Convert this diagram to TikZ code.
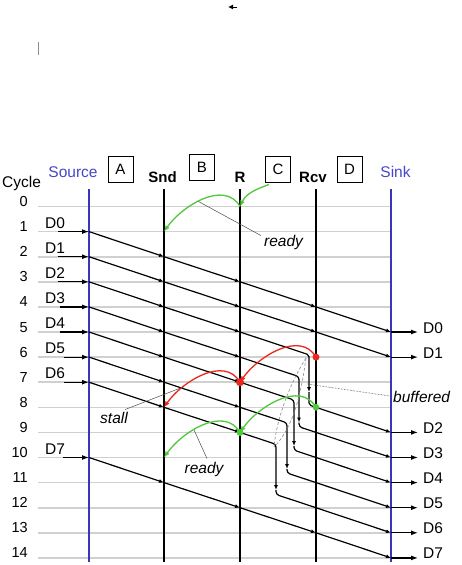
\documentclass[tikz,border=0pt]{standalone}
\usepackage{fontspec}
\setmainfont{Liberation Sans}
\usetikzlibrary{arrows.meta}
\definecolor{railblue}{RGB}{55,55,185}
\definecolor{textblue}{RGB}{70,70,200}
\definecolor{rowgray}{RGB}{208,208,208}
\definecolor{okgreen}{RGB}{80,200,60}
\definecolor{stallred}{RGB}{235,40,30}
\begin{document}
\begin{tikzpicture}[x=1pt,y=1pt,
  lab/.style={font=\fontsize{15.5}{17}\selectfont, inner sep=0},
  num/.style={font=\fontsize{14.5}{16}\selectfont, inner sep=0, anchor=base east},
  hdr/.style={font=\bfseries\fontsize{15}{17}\selectfont, inner sep=0, anchor=base},
  blu/.style={font=\fontsize{15.5}{17}\selectfont, inner sep=0, text=textblue, anchor=base},
  hbox/.style={draw, line width=1pt, minimum width=25pt, minimum height=26pt, inner sep=0, font=\fontsize{15}{17}\selectfont},
  note/.style={font=\itshape\fontsize{15.5}{17}\selectfont, inner sep=0},
  rowline/.style={rowgray, line width=1.6pt},
  rail/.style={line width=2pt},
  flow/.style={line width=1.2pt, -{Latex[length=5pt,width=4pt]}},
  plain/.style={line width=1.2pt},
  outarr/.style={line width=1.2pt, -{Latex[length=7pt,width=5pt]}},
  garc/.style={okgreen, line width=1.3pt, -{Latex[length=6pt,width=5pt]}},
  rarc/.style={stallred, line width=1.3pt, -{Latex[length=6pt,width=5pt]}},
  hop/.style={out=120, in=55, looseness=1},
  thinline/.style={black!70, line width=0.5pt},
]
\fill[white] (0,0) rectangle (462,-565);
\useasboundingbox (0,0) rectangle (462,-565);

% grid coordinates
\foreach \r in {0,...,14}{
  \pgfmathsetmacro{\yy}{-(206.5+25.1*\r)}
  \coordinate (G\r) at (38,\yy);
  \coordinate (S\r) at (89,\yy);
  \coordinate (N\r) at (164,\yy);
  \coordinate (R\r) at (240,\yy);
  \coordinate (V\r) at (316,\yy);
  \coordinate (K\r) at (391,\yy);
  \coordinate (O\r) at (418,\yy);
}

% stray marks
\coordinate (m1a) at (237,-7);
\coordinate (m1b) at (228,-7);
\draw[line width=1pt, -{Latex[length=5pt,width=5pt]}] (m1a) -- (m1b);
\coordinate (m2a) at (38,-42);
\coordinate (m2b) at (38,-55);
\draw[black!45, line width=1pt] (m2a) -- (m2b);

% row lines and cycle numbers
\foreach \r in {0,...,14}{
  \draw[rowline] (G\r) -- (K\r);
  \node[num] (c\r) at ([xshift=-10pt]G\r) {\r};
}

% header
\node[lab, anchor=base] (cyc) at (21.5,-187) {Cycle};
\node[blu] (source) at (73,-177) {Source};
\node[hbox] (A) at (120.5,-169.5) {A};
\node[hdr] (snd) at (162.5,-182) {Snd};
\node[hbox] (B) at (202,-167.5) {B};
\node[hdr] (rr) at (240,-182) {R};
\node[hbox] (C) at (278,-169.5) {C};
\node[hdr] (rcv) at (313,-182) {Rcv};
\node[hbox] (D) at (349.5,-169.5) {D};
\node[blu] (sink) at (395.5,-177) {Sink};

% rails
\coordinate (srcT) at (89,-189);  \coordinate (srcB) at (89,-562);
\coordinate (sndT) at (164,-189); \coordinate (sndB) at (164,-562);
\coordinate (rT) at (240,-189);   \coordinate (rB) at (240,-562);
\coordinate (rcvT) at (316,-189); \coordinate (rcvB) at (316,-562);
\coordinate (snkT) at (391,-189); \coordinate (snkB) at (391,-562);
\draw[rail, railblue] (srcT) -- (srcB);
\draw[rail] (sndT) -- (sndB);
\draw[rail] (rT) -- (rB);
\draw[rail] (rcvT) -- (rcvB);
\draw[rail, railblue] (snkT) -- (snkB);

% input arrows and labels
\foreach \r/\d/\x in {1/0/20,2/1/20,3/2/20,4/3/22,5/4/22,6/5/26,7/6/26,10/7/25}{
  \draw[outarr] ([xshift=\x pt]G\r) -- (S\r);
  \node[lab, anchor=base west] (in\d) at ([shift={(7,3.5)}]G\r) {D\d};
}

% output arrows and labels
\foreach \r/\d in {5/0,6/1,9/2,10/3,11/4,12/5,13/6,14/7}{
  \draw[outarr] (K\r) -- (O\r);
  \node[lab, anchor=base west] (out\d) at ([shift={(5,-1)}]O\r) {D\d};
}

% unobstructed data paths D0, D1, D7
\foreach \s in {1,2,10}{
  \pgfmathtruncatemacro{\a}{\s+1}
  \pgfmathtruncatemacro{\b}{\s+2}
  \pgfmathtruncatemacro{\c}{\s+3}
  \pgfmathtruncatemacro{\e}{\s+4}
  \draw[flow] (S\s) -- (N\a);
  \draw[flow] (N\a) -- (R\b);
  \draw[flow] (R\b) -- (V\c);
  \draw[flow] (V\c) -- (K\e);
}
% first hops of D2..D6
\foreach \s in {3,...,7}{
  \pgfmathtruncatemacro{\a}{\s+1}
  \pgfmathtruncatemacro{\b}{\s+2}
  \draw[flow] (S\s) -- (N\a);
  \draw[flow] (N\a) -- (R\b);
}

% buffered paths
\coordinate (b2a) at (309,-354.8); \coordinate (b2m) at (309,-392); \coordinate (b2b) at (309,-405);
\coordinate (b3a) at (299,-376.6); \coordinate (b3m) at (299,-422.5); \coordinate (b3b) at (299,-426.8);
\coordinate (b4a) at (294,-400.0); \coordinate (b4m) at (294,-446); \coordinate (b4b) at (294,-450.2);
\coordinate (b5a) at (287,-422.8); \coordinate (b5m) at (287,-469); \coordinate (b5b) at (287,-473.0);
\coordinate (b6a) at (276,-444.3); \coordinate (b6m) at (276,-490); \coordinate (b6b) at (276,-494.5);

\draw[flow, rounded corners=2pt] (R5) -- (b2a) -- (b2m);
\draw[plain, rounded corners=2pt] (b2m) -- (b2b) -- (V8);
\draw[flow] (V8) -- (K9);

\draw[flow, rounded corners=3pt] (R6) -- (b3a) -- (b3m);
\draw[plain, rounded corners=3pt] (b3m) -- (b3b) -- (V9);
\draw[flow] (V9) -- (K10);

\draw[flow, rounded corners=3pt] (R7) -- (b4a) -- (b4m);
\draw[plain, rounded corners=3pt] (b4m) -- (b4b) -- (V10);
\draw[flow] (V10) -- (K11);

\draw[flow, rounded corners=3pt] (R8) -- (b5a) -- (b5m);
\draw[plain, rounded corners=3pt] (b5m) -- (b5b) -- (V11);
\draw[flow] (V11) -- (K12);

\draw[flow, rounded corners=3pt] (R9) -- (b6a) -- (b6m);
\draw[plain, rounded corners=3pt] (b6m) -- (b6b) -- (V12);
\draw[flow] (V12) -- (K13);

% dashed lens
\coordinate (lensT) at (306,-358);
\coordinate (lensB) at (274,-447);
\draw[black!45, line width=0.6pt, dash pattern=on 3pt off 2pt] (lensT) .. controls (292,-380) and (277,-415) .. (lensB);
\draw[black!45, line width=0.6pt, dash pattern=on 3pt off 2pt] (lensT) .. controls (301,-395) and (293,-428) .. (lensB);

% ready / stall arcs
\draw[garc] ([shift={(4,-1.5)}]C.south west) to[out=200,in=65] (R0);
\draw[garc] (R0) to[hop] coordinate[pos=0.55] (rdy1) (N1);
\draw[rarc] (V6) to[hop] (R7);
\draw[rarc] (R7) to[hop] coordinate[pos=0.72] (stl) (N8);
\draw[garc] (V8) to[hop] (R9);
\draw[garc] (R9) to[hop] coordinate[pos=0.6] (rdy2) (N10);
\fill[stallred] (V6) circle (3.5);
\fill[stallred] (R7) circle (4);
\fill[okgreen] (V8) circle (3.3);
\fill[okgreen] (R9) circle (3.5);

% annotations
\node[note, anchor=base west] (ready1) at (264,-246) {ready};
\draw[thinline] (rdy1) -- ([shift={(-3,-1)}]ready1.north west);
\node[note, anchor=base] (ready2) at (204,-473) {ready};
\draw[thinline] (rdy2) -- ([shift={(3,3)}]ready2.north);
\node[note, anchor=base west] (stall) at (100,-423) {stall};
\draw[thinline] ([shift={(-3,2)}]stall.north east) -- (stl);
\coordinate (bufpt) at (307,-384);
\node[note, anchor=base west] (buf) at (393,-402) {buffered};
\draw[thinline, densely dotted, line width=0.7pt] (bufpt) -- (buf.west);
\end{tikzpicture}
\end{document}
